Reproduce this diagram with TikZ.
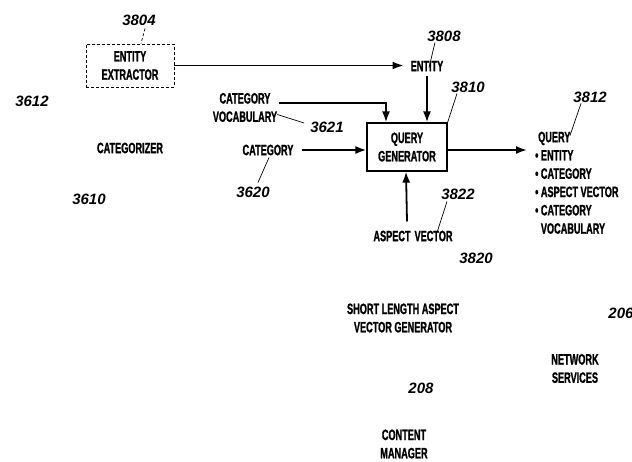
\documentclass[tikz,border=0pt]{standalone}
\usepackage{fontspec}
\setmainfont{Liberation Sans}
\newfontfamily\lblfont[FakeStretch=0.61,BoldFeatures={FakeBold=1.2}]{Liberation Sans}
\newfontfamily\numfont{Liberation Sans}
\usetikzlibrary{arrows.meta}
\tikzset{
  lbl/.style={font=\lblfont\bfseries\fontsize{15}{18.3}\selectfont, align=center, inner sep=0pt},
  num/.style={font=\numfont\bfseries\itshape\fontsize{15}{16}\selectfont, inner sep=0pt},
  arr/.style={line width=1.8pt, -{Latex[length=11pt,width=8pt]}},
  lead/.style={line width=0.7pt},
  blk/.style={draw, line width=1.2pt, lbl, minimum width=80pt, minimum height=48pt}
}
\begin{document}
\begin{tikzpicture}[x=1pt,y=-1pt]
\useasboundingbox (0,0) rectangle (632,461);
% labels
\node[num] (n3804) at (139,20) {3804};
\node[blk, dashed, dash pattern=on 3pt off 2pt, line width=0.9pt, minimum width=88pt, minimum height=43pt] (ee) at (130,65.5) {ENTITY\\EXTRACTOR};
\draw[lead, dash pattern=on 3pt off 2pt] ([xshift=6,yshift=-3]n3804.south) -- ([xshift=11]ee.north);
\node[num] (n3612) at (32,101) {3612};
\node[lbl] (catz) at (130,148) {CATEGORIZER};
\node[num] (n3610) at (89,199) {3610};

\node[lbl] (ent) at (427,66) {ENTITY};
\node[num] (n3808) at (444,36) {3808};
\node[blk] (qg) at (407,147) {QUERY\\GENERATOR};
\node[num] (n3810) at (468,87) {3810};

\node[lbl] (cv) at (245,107.5) {CATEGORY\\VOCABULARY};
\node[num] (n3621) at (327,127) {3621};
\node[lbl] (cat) at (268,150) {CATEGORY};
\node[num] (n3620) at (253,192) {3620};

\node[lbl] (av) at (413,236) {ASPECT\hspace{4pt}VECTOR};
\node[num] (n3822) at (458,194) {3822};
\node[num] (n3820) at (476,258) {3820};

\node[num] (n3812) at (590,97) {3812};
\node[lbl, align=left, anchor=north west] (ql) at (535,131.5)
  {\hspace{3pt}QUERY\\ \textbullet\,ENTITY\\ \textbullet\,CATEGORY\\ \textbullet\,ASPECT VECTOR\\ \textbullet\,CATEGORY\\ \phantom{\textbullet\,}VOCABULARY};

\node[lbl] (slav) at (403,318) {SHORT LENGTH ASPECT\\VECTOR GENERATOR};
\node[num] (n206) at (621,313) {206};
\node[lbl] (ns) at (575,368.5) {NETWORK\\SERVICES};
\node[num] (n208) at (421,388) {208};
\node[lbl] (cm) at (404,444) {CONTENT\\MANAGER};

% arrows
\draw[arr] (ee.east) -- ([xshift=-7]ee.east -| ent.west);
\draw[arr] ([yshift=-5]ent.south) -- (ent.south |- qg.north);
\draw[arr] ([shift={(2,-4.5)}]cv.east) -| ([xshift=-21]qg.north);
\draw[arr] ([xshift=8]cat.east) -- (cat.east -| qg.west);
\draw[arr] ([xshift=-6,yshift=9]av.north) -- ([xshift=-1]qg.south);
\draw[arr] ([yshift=-3]qg.east) -- ([xshift=-8,yshift=-3]qg.east -| ql.west);

% leaders
\draw[lead] ([xshift=-9,yshift=-1]n3808.south) -- ([xshift=2,yshift=-7]ent.north);
\draw[lead] ([xshift=-11,yshift=-1]n3810.south) -- (qg.north east);
\draw[lead] ([yshift=-7]cv.east) -- ([xshift=-6,yshift=4]n3621.west);
\draw[lead] ([xshift=1,yshift=-2]cat.south) -- ([xshift=5,yshift=4]n3620.north);
\draw[lead] ([xshift=-11,yshift=-2]n3822.south) -- ([xshift=24,yshift=-2]av.north);
\draw[lead] ([xshift=-9,yshift=-1]n3812.south) -- ([xshift=35,yshift=-4]ql.north west);
\end{tikzpicture}
\end{document}
